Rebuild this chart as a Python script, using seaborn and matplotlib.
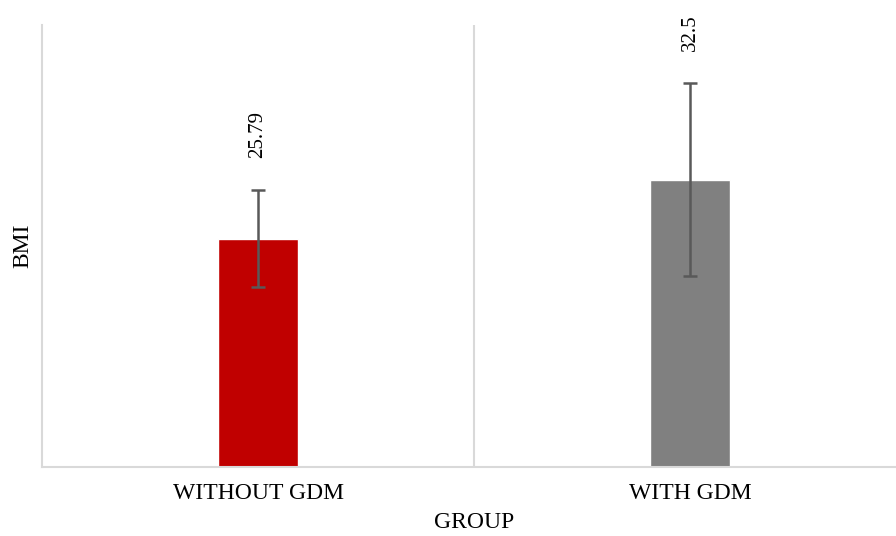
import matplotlib
matplotlib.use("Agg")
import matplotlib.pyplot as plt
import seaborn as sns
import pandas as pd

groups = ["WITHOUT GDM", "WITH GDM"]
bmi_mean = [25.79, 32.5]
bmi_sd = [5.5, 10.9]
bar_colors = ["#C00000", "#808080"]

sns.set_style("white")
plt.rcParams["font.family"] = ["Liberation Serif", "DejaVu Serif"]

df = pd.DataFrame({"group": groups, "bmi": bmi_mean})

fig = plt.figure(figsize=(8.96, 5.36), dpi=100)
ax = fig.add_axes([42 / 896, (536 - 466.5) / 536, 864 / 896, 441.5 / 536])

sns.barplot(data=df, x="group", y="bmi", hue="group", palette=bar_colors,
            saturation=1, width=0.185, legend=False, ax=ax, errorbar=None)
ax.errorbar(range(len(groups)), bmi_mean, yerr=bmi_sd, fmt="none",
            ecolor="#595959", elinewidth=1.8, capsize=5, capthick=1.8, zorder=3)

for i, (m, s) in enumerate(zip(bmi_mean, bmi_sd)):
    ax.text(i, m + s + 3.6, f"{m:g}", rotation=90, ha="center", va="bottom",
            fontsize=15, color="black")

ax.set_xlim(-0.5, 1.5)
ax.set_ylim(0, 50)
ax.axvline(0.5, color="#d9d9d9", lw=1.5, zorder=0)
ax.set_yticks([])
ax.tick_params(axis="x", length=0, pad=12, labelsize=17, labelcolor="black")
ax.set_xlabel("GROUP", fontsize=17, labelpad=6, color="black")
ax.set_ylabel("BMI", fontsize=17, labelpad=6, color="black")

for side in ["top", "right"]:
    ax.spines[side].set_visible(False)
ax.spines["left"].set_color("#d9d9d9")
ax.spines["left"].set_linewidth(1.5)
ax.spines["bottom"].set_color("#d9d9d9")
ax.spines["bottom"].set_linewidth(1.5)

fig.savefig("out.png", dpi=100)
